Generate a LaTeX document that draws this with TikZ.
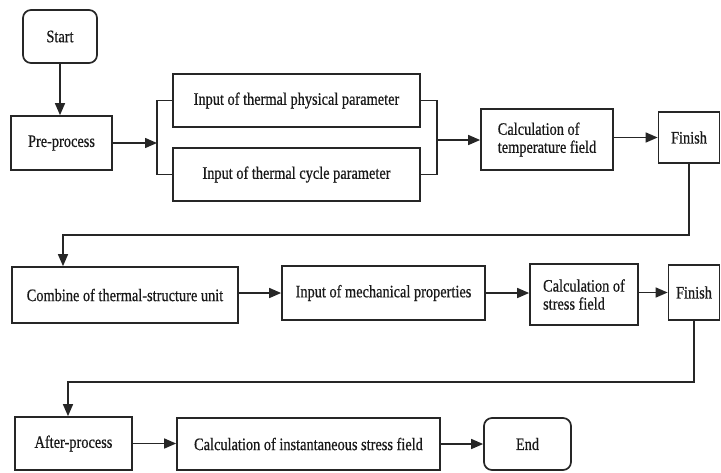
\documentclass[tikz,border=0pt]{standalone}
\usepackage{fontspec}
\setmainfont{Liberation Serif}[FakeStretch=0.82,FakeBold=0.6]
\usetikzlibrary{arrows.meta}
\tikzset{
  box/.style={draw=black!85, line width=1.7pt, inner sep=0pt, align=center,
    font=\fontsize{17.5}{18}\selectfont, text=black!90},
  rbox/.style={box, rounded corners=8pt},
  conn/.style={draw=black!85, line width=1.5pt},
  arr/.style={conn, -{Triangle[length=12pt,width=10pt]}},
}
\begin{document}
\begin{tikzpicture}[x=1pt,y=-1pt]
\useasboundingbox (0,0) rectangle (721,472);
% row 1
\node[rbox, minimum width=74, minimum height=53] (start) at (60,36.5) {Start};
\node[box, minimum width=101, minimum height=54] (pre) at (61.5,143) {Pre-process};
\node[box, minimum width=247, minimum height=53] (tpp) at (296.5,100.5) {Input of thermal physical parameter};
\node[box, minimum width=247, minimum height=53] (tcp) at (296.5,174.5) {Input of thermal cycle parameter};
\node[box, minimum width=132, minimum height=61, align=left] (ctf) at (547,139.5) {Calculation of\\temperature field};
\node[box, minimum width=61, minimum height=51] (fin1) at (689,137.5) {Finish};
% row 2
\node[box, minimum width=226, minimum height=56] (comb) at (125,295) {Combine of thermal-structure unit};
\node[box, minimum width=203, minimum height=54] (imp) at (383.5,293) {Input of mechanical properties};
\node[box, minimum width=108, minimum height=61, align=left] (csf) at (584,294.5) {Calculation of\\stress field};
\node[box, minimum width=51, minimum height=55] (fin2) at (694,292.5) {Finish};
% row 3
\node[box, minimum width=117, minimum height=53] (after) at (73.5,443.5) {After-process};
\node[box, minimum width=263, minimum height=52] (cis) at (308.5,444) {Calculation of instantaneous stress field};
\node[rbox, minimum width=87, minimum height=52] (end) at (527.5,444) {End};
% helper coordinates
\coordinate (bl) at (157,143);
\coordinate (br) at (437,140);
\coordinate (t1) at (63,235);
\coordinate (t2) at (68,382);
% connectors
\draw[arr] (start) -- (start |- pre.north);
\draw[arr] (pre.east) -- (bl);
\draw[conn] (tpp.west) -| (bl) |- (tcp.west);
\draw[conn] (tpp.east) -| (br) |- (tcp.east);
\draw[arr] (br) -- (br -| ctf.west);
\draw[arr] (ctf.east |- fin1.west) -- (fin1.west);
\draw[arr] (fin1.south) |- (t1) -- (t1 |- comb.north);
\draw[arr] (comb.east |- imp.west) -- (imp.west);
\draw[arr] (imp.east) -- (imp.east -| csf.west);
\draw[arr] (csf.east |- fin2.west) -- (fin2.west);
\draw[arr] (fin2.south) |- (t2) -- (t2 |- after.north);
\draw[arr] (after.east) -- (after.east -| cis.west);
\draw[arr] (cis.east) -- (cis.east -| end.west);
\end{tikzpicture}
\end{document}
